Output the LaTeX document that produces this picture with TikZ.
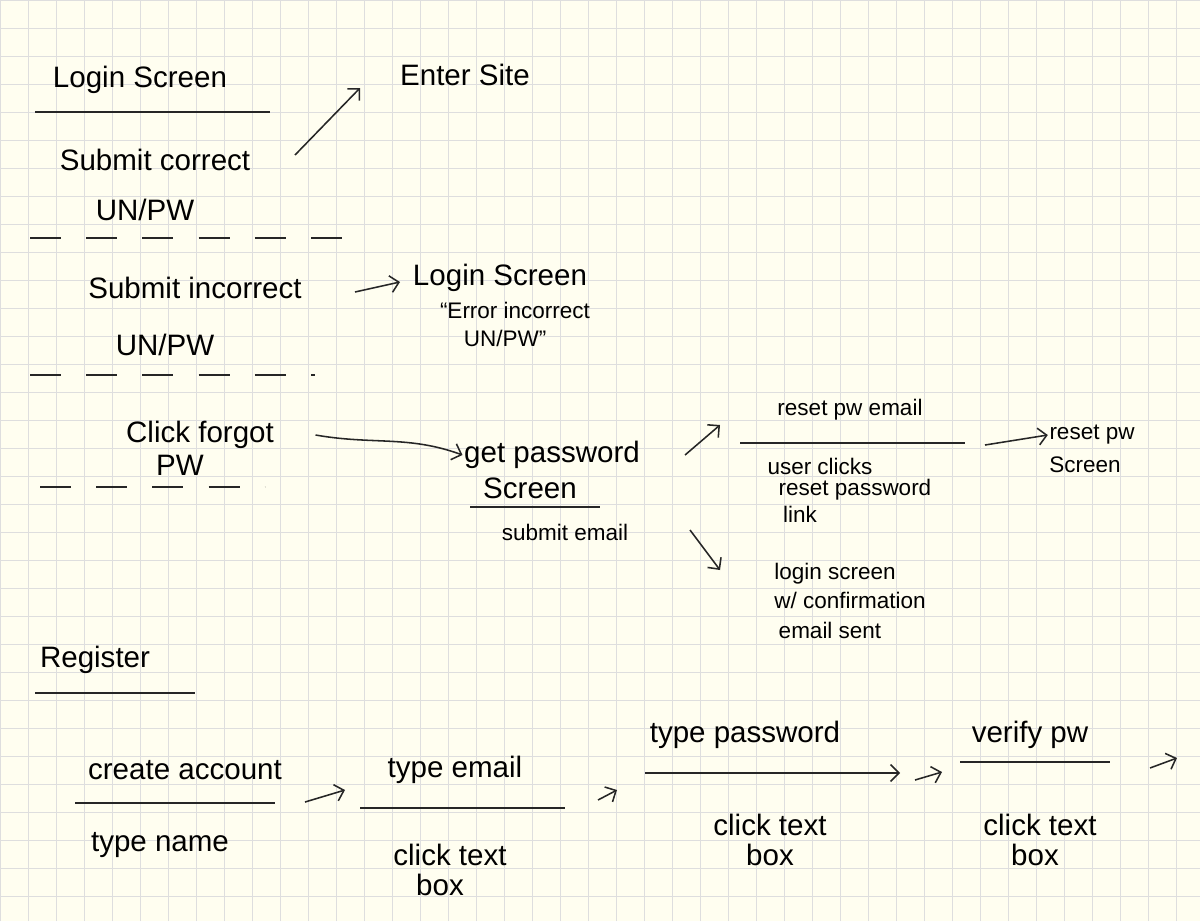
\documentclass[tikz,border=0pt]{standalone}
\usepackage{fontspec}
\setmainfont{Liberation Sans}
\usetikzlibrary{arrows.meta}
\tikzset{
  big/.style={font=\fontsize{21}{23}\selectfont, inner sep=1pt},
  small/.style={font=\fontsize{16}{17}\selectfont, inner sep=1pt},
  pen/.style={line width=1.1pt, black!85},
  arr/.style={pen, -{Straight Barb[length=6pt]}},
  gap line/.style={pen, dash pattern=on 22pt off 18pt}
}
\begin{document}
\begin{tikzpicture}[x=0.025cm, y=-0.025cm]
        \useasboundingbox (0,0) rectangle (1200,921);
        \fill[white!94!yellow] (0,0) rectangle (1200,921);
        \draw[black!13, step=0.7cm] (0,0) grid (1200,921);
        % login screen
        \node[big] at (140, 80) (login) {Login Screen};
        \draw[pen] (35, 112) -- (270, 112);
        \node[big] at (465, 75) (enter) {Enter Site};
        \node[big] at (155, 160) (correct) {Submit correct};
        \node[big] at (145, 210) (correct2) {UN/PW};
        \draw[gap line] (30, 238) -- (350, 238);
        \node[big] at (195, 288) (incorrect) {Submit incorrect};
        \node[big] at (165, 345) (incorrect2) {UN/PW};
        \draw[gap line] (30, 375) -- (315, 375);
        \node[big] at (500, 278) (error) {Login Screen};
        \node[small] at (515, 310) (error2) {``Error incorrect};
        \node[small] at (505, 338) (error3) {UN/PW''};
        \node[big] at (200, 435) (forgot) {Click forgot};
        \node[big] at (180, 465) (forgot2) {PW};
        \draw[gap line] (40, 487) -- (265, 487);
        \node[big] at (552, 455) (getpw) {get password};
        \node[big] at (530, 488) (getpw2) {Screen};
        \draw[pen] (470, 507) -- (600, 507);
        \node[small] at (565, 532) (submit) {submit email};
        \node[small] at (850, 410) (resetmail) {reset pw email};
        \draw[pen] (740, 443) -- (965, 443);
        \node[small] at (820, 466) (clicks) {user clicks};
        \node[small] at (855, 490) (clicks2) {reset password};
        \node[small] at (800, 514) (clicks3) {link};
        \node[small] at (1092, 435) (resetscr) {reset pw};
        \node[small] at (1085, 465) (resetscr2) {Screen};
        \node[small] at (835, 574) (confirm) {login screen};
        \node[small] at (850, 600) (confirm2) {w/ confirmation};
        \node[small] at (830, 630) (confirm3) {email sent};
        \coordinate (e1) at (295, 155); \coordinate (e1e) at (360, 88);
        \coordinate (i1) at (355, 292); \coordinate (i1e) at (400, 282);
        \coordinate (g1) at (685, 455); \coordinate (g1e) at (720, 425);
        \coordinate (s1) at (690, 530); \coordinate (s1e) at (720, 570);
        \coordinate (r1) at (985, 445);
        \draw[arr] (e1) -- (e1e);
        \draw[arr] (i1) -- (i1e);
        \draw[arr] (forgot.east) ++(40,0) to[out=-10, in=160] (getpw.west);
        \draw[arr] (g1) -- (g1e);
        \draw[arr] (s1) -- (s1e);
        \draw[arr] (r1) -- (resetscr.west);
        % register
        \node[big] at (95, 660) (register) {Register};
        \draw[pen] (35, 693) -- (195, 693);
        \node[big] at (185, 770) (create) {create account};
        \draw[pen] (75, 803) -- (275, 803);
        \node[big] at (160, 845) (name) {type name};
        \node[big] at (455, 770) (email) {type email};
        \draw[pen] (360, 808) -- (565, 808);
        \node[big] at (450, 855) (box1) {click text};
        \node[big] at (440, 885) (box1b) {box};
        \node[big] at (745, 735) (password) {type password};
        \draw[arr] (645, 773) -- (900, 773);
        \node[big] at (770, 825) (box2) {click text};
        \node[big] at (770, 855) (box2b) {box};
        \node[big] at (1030, 735) (verify) {verify pw};
        \draw[pen] (960, 762) -- (1110, 762);
        \node[big] at (1040, 825) (box3) {click text};
        \node[big] at (1035, 855) (box3b) {box};
        \coordinate (a1) at (305, 802); \coordinate (a1e) at (345, 790);
        \coordinate (a2) at (598, 800); \coordinate (a2e) at (617, 790);
        \coordinate (a3) at (915, 780); \coordinate (a3e) at (942, 772);
        \coordinate (a4) at (1150, 768); \coordinate (a4e) at (1177, 758);
        \draw[arr] (a1) -- (a1e);
        \draw[arr] (a2) -- (a2e);
        \draw[arr] (a3) -- (a3e);
        \draw[arr] (a4) -- (a4e);
\end{tikzpicture}
\end{document}
